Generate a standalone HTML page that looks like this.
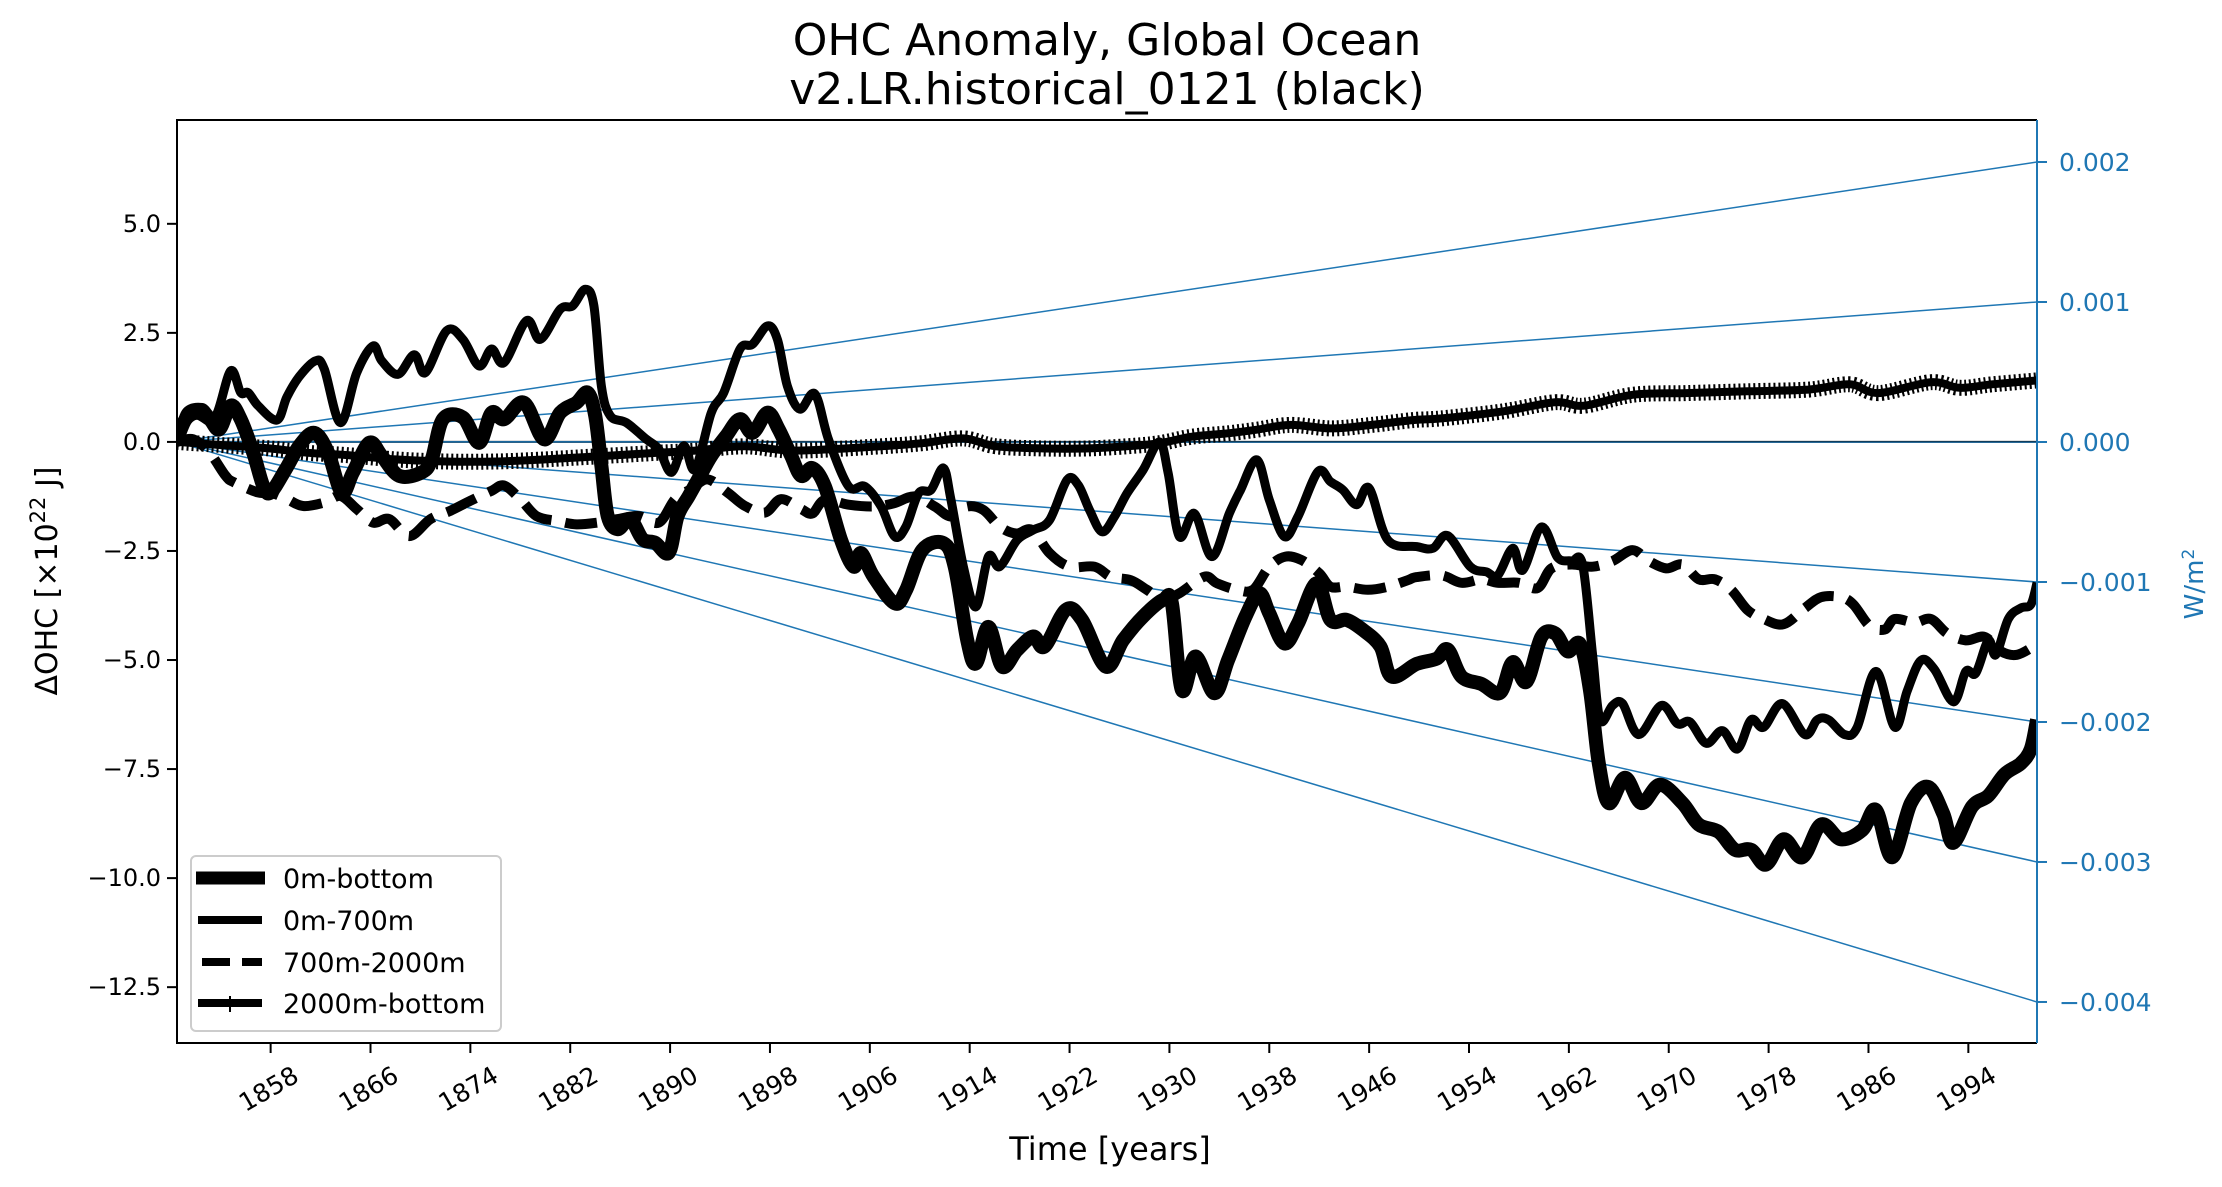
<!DOCTYPE html>
<html><head><meta charset="utf-8"><style>
html,body{margin:0;padding:0;background:#fff}
svg{display:block;font-family:"DejaVu Sans","Liberation Sans",sans-serif}
</style></head><body>
<svg id="chart" width="2222" height="1187" viewBox="0 0 2222 1187" xmlns="http://www.w3.org/2000/svg">
<defs><clipPath id="plotclip"><rect x="177" y="120" width="1860" height="923"/></clipPath></defs>
<text x="1107" y="55" font-size="44" text-anchor="middle">OHC Anomaly, Global Ocean</text>
<text x="1107" y="104" font-size="44" text-anchor="middle">v2.LR.historical_0121 (black)</text>
<g id="fan" clip-path="url(#plotclip)"></g>
<g id="series" clip-path="url(#plotclip)"></g>
<g id="axes"></g>
<text x="1110" y="1160" font-size="32" text-anchor="middle">Time [years]</text>
<text x="0" y="0" font-size="30" text-anchor="middle" transform="translate(57,581) rotate(-90)">ΔOHC [×10<tspan dy="-12" font-size="21">22</tspan><tspan dy="12"> J]</tspan></text>
<text x="0" y="0" font-size="26" fill="#1f77b4" text-anchor="middle" transform="translate(2203,584) rotate(-90)">W/m<tspan dy="-9" font-size="17">2</tspan></text>
<g>
<rect x="191" y="856" width="310" height="175" rx="5" fill="#fff" fill-opacity="0.85" stroke="#cccccc" stroke-width="2"/>
<g><line x1="196" y1="878" x2="265" y2="878" stroke="#000" stroke-width="13"/><text x="283" y="888" font-size="27">0m-bottom</text></g>
<g><line x1="198" y1="920" x2="262" y2="920" stroke="#000" stroke-width="8"/><text x="283" y="930" font-size="27">0m-700m</text></g>
<g><line x1="202" y1="962" x2="262" y2="962" stroke="#000" stroke-width="8" stroke-dasharray="28 12"/><text x="283" y="972" font-size="27">700m-2000m</text></g>
<g><line x1="198" y1="1003" x2="262" y2="1003" stroke="#000" stroke-width="8"/><line x1="230" y1="996" x2="230" y2="1012" stroke="#000" stroke-width="2"/><text x="283" y="1013" font-size="27">2000m-bottom</text></g>
</g>
</svg>
<script>
const yr1 = [1850.5,1851.2,1852.1,1853.1,1853.9,1854.8,1855.6,1856.6,1857.4,1858,1859.2,1860.3,1861.5,1862.6,1863.7,1864.6,1865.9,1866.9,1868.3,1870.1,1870.9,1871.8,1873.4,1874.7,1875.7,1876.7,1878.3,1879.9,1881.2,1882.5,1883.4,1884,1884.5,1885,1885.8,1886.8,1887.8,1888.8,1889.9,1890.6,1891.5,1892.4,1893.3,1894.5,1895.6,1896.6,1897.8,1898.7,1899.7,1900.5,1901.4,1902.4,1903.7,1904.7,1905.3,1906.3,1908,1908.9,1910.2,1911.9,1912.8,1913.8,1914.5,1915.5,1916.6,1917.8,1919.1,1920,1921.7,1923,1924.9,1926.3,1927.9,1929.5,1930.2,1931,1932.1,1933.6,1934.7,1936.1,1937.2,1938,1939.2,1940.3,1941.8,1942.9,1944.2,1945.5,1946.9,1947.8,1949.8,1951.4,1952.3,1953.4,1955,1956.5,1957.5,1958.6,1959.8,1960.9,1961.9,1962.9,1963.7,1964.4,1965.2,1966.5,1967.8,1969.3,1971.1,1972.4,1974,1975.3,1976.6,1977.8,1979.2,1980.7,1982.2,1983.8,1985.5,1986.6,1987.9,1989.4,1990.8,1992,1992.8,1994.3,1995.6,1996.9,1998.2,1999,1999.5];
const ohcBottom = [0.06,0.52,0.67,0.52,0.29,0.83,0.52,-0.24,-1.0,-1.16,-0.63,-0.09,0.21,-0.24,-1.16,-0.7,-0.02,-0.32,-0.78,-0.7,-0.4,0.52,0.56,-0.02,0.67,0.52,0.9,0.06,0.67,0.9,1.13,0.6,-0.55,-1.7,-2.0,-1.77,-2.23,-2.31,-2.54,-1.7,-1.24,-0.78,-0.32,0.14,0.52,0.21,0.67,0.29,-0.32,-0.78,-0.6,-1.02,-2.25,-2.86,-2.55,-3.09,-3.7,-3.4,-2.48,-2.32,-2.86,-4.54,-5.08,-4.24,-5.15,-4.77,-4.46,-4.69,-3.85,-4.08,-5.15,-4.54,-4.0,-3.62,-3.7,-5.69,-4.92,-5.76,-5.0,-4.0,-3.47,-3.93,-4.62,-4.16,-3.24,-4.08,-4.08,-4.31,-4.69,-5.38,-5.09,-4.97,-4.76,-5.38,-5.55,-5.75,-5.05,-5.5,-4.47,-4.39,-4.8,-4.64,-5.71,-7.37,-8.28,-7.7,-8.28,-7.86,-8.28,-8.77,-8.94,-9.35,-9.35,-9.69,-9.11,-9.52,-8.77,-9.11,-8.9,-8.44,-9.52,-8.28,-7.91,-8.53,-9.19,-8.36,-8.11,-7.62,-7.37,-7.04,-6.37];
const yr2 = [1850.5,1851.2,1852.5,1853.6,1854.8,1855.6,1856.2,1857,1858.5,1859.3,1860.3,1861.6,1862.3,1863.6,1864.9,1866.2,1866.9,1868.2,1869.5,1870.4,1872.1,1873.4,1874.7,1875.7,1876.7,1878.5,1879.6,1881.2,1882.2,1883.2,1883.9,1884.5,1885.2,1886.5,1888.1,1889.1,1890.1,1891.1,1892,1893.3,1894.3,1895.6,1896.6,1897.8,1898.6,1899.4,1900.4,1901.6,1902.7,1904.3,1905.6,1906.9,1908,1908.9,1909.9,1910.9,1911.9,1912.5,1913.5,1914.5,1915.5,1916.4,1917.8,1919.1,1920.4,1921.8,1922.7,1923.6,1924.6,1925.6,1926.6,1927.9,1929.2,1929.9,1930.8,1932,1933.4,1934.8,1935.7,1937,1938,1939.2,1940.3,1941.9,1942.9,1943.9,1945,1946,1947.5,1949.8,1951.1,1952.3,1954.1,1955.4,1956.3,1957.5,1958.3,1959.8,1961.1,1962.2,1963.1,1963.9,1964.5,1965.5,1966.3,1967.6,1969.4,1970.7,1971.7,1973,1974.3,1975.5,1976.6,1977.6,1979.1,1980.9,1981.9,1982.8,1984.1,1985.1,1986.6,1988.1,1989.1,1990.2,1991.3,1992.8,1993.8,1994.6,1995.6,1996.2,1997.2,1998.2,1999,1999.5];
const ohc700 = [0.0,0.67,0.79,0.6,1.63,1.13,1.13,0.83,0.5,1.03,1.5,1.86,1.67,0.44,1.59,2.2,1.86,1.55,2.0,1.59,2.55,2.35,1.74,2.13,1.82,2.78,2.35,3.04,3.12,3.5,3.12,1.28,0.6,0.44,0.06,-0.17,-0.7,-0.09,-0.63,0.67,1.13,2.13,2.24,2.66,2.35,1.28,0.75,1.1,0.05,-1.02,-1.02,-1.48,-2.17,-1.94,-1.18,-1.1,-0.6,-1.33,-2.86,-3.78,-2.63,-2.86,-2.25,-2.02,-1.79,-0.87,-0.99,-1.56,-2.06,-1.71,-1.18,-0.64,0.0,-0.72,-2.17,-1.64,-2.63,-1.64,-1.1,-0.41,-1.33,-2.17,-1.71,-0.68,-0.91,-1.1,-1.44,-1.06,-2.25,-2.4,-2.44,-2.15,-2.86,-2.98,-3.06,-2.44,-2.94,-1.95,-2.65,-2.73,-2.81,-4.88,-6.37,-6.04,-6.0,-6.71,-6.04,-6.46,-6.42,-6.91,-6.62,-7.04,-6.37,-6.54,-6.0,-6.71,-6.37,-6.37,-6.71,-6.54,-5.26,-6.54,-5.71,-5.01,-5.22,-5.96,-5.26,-5.3,-4.55,-4.88,-4.06,-3.81,-3.73,-3.23];
const yr3 = [1850.5,1851.8,1853.1,1854.4,1855.1,1857,1858,1859.3,1860.6,1862.3,1863.6,1864.9,1866.2,1867.5,1869.1,1870.8,1872.4,1874,1875.7,1876.7,1878,1879.3,1880.9,1882.5,1884.2,1885.8,1887.5,1889.1,1890.4,1891.7,1893,1894.6,1896,1897.6,1898.9,1900.5,1901.4,1902.4,1904.3,1906.3,1907.9,1909.6,1911.2,1912.5,1913.8,1915.1,1916.4,1917.7,1919,1920.4,1922,1924,1925.3,1926.9,1928.2,1929.5,1930.8,1932.8,1933.8,1935.4,1936.7,1938,1939.3,1940.6,1942,1942.9,1944.2,1945.9,1947.5,1949.1,1949.8,1951.8,1953.4,1955,1956.3,1958,1959.5,1960.6,1962.2,1963.9,1965.5,1967.1,1968.4,1969.8,1971.1,1972.4,1973.7,1975,1976.3,1977.6,1979.2,1980.9,1982.2,1983.8,1984.8,1986.1,1987.3,1988.1,1989.7,1991,1992.3,1993.8,1995.3,1996.6,1997.9,1999.5];
const ohc2000 = [0,0.06,-0.24,-0.78,-0.93,-1.16,-1.16,-1.31,-1.47,-1.39,-1.24,-1.54,-1.85,-1.77,-2.16,-1.77,-1.58,-1.35,-1.12,-1.0,-1.31,-1.7,-1.81,-1.89,-1.85,-1.77,-1.7,-1.85,-1.31,-1.08,-0.86,-1.16,-1.47,-1.62,-1.31,-1.54,-1.64,-1.33,-1.44,-1.48,-1.41,-1.25,-1.48,-1.71,-1.48,-1.56,-1.94,-2.1,-2.02,-2.55,-2.86,-2.86,-3.09,-3.17,-3.39,-3.62,-3.47,-3.09,-3.24,-3.39,-3.39,-2.86,-2.63,-2.71,-3.01,-3.32,-3.32,-3.39,-3.32,-3.17,-3.1,-3.06,-3.23,-3.15,-3.23,-3.23,-3.35,-2.9,-2.81,-2.86,-2.73,-2.48,-2.73,-2.9,-2.81,-3.15,-3.15,-3.39,-3.85,-4.06,-4.18,-3.81,-3.56,-3.56,-3.73,-4.22,-4.3,-4.06,-4.14,-4.06,-4.39,-4.55,-4.47,-4.8,-4.88,-4.64];
const yr4 = [1850.5,1853,1855.5,1858,1861,1864,1868,1872,1876,1880,1883,1886,1889,1892,1896,1900,1906.9,1910.2,1913.5,1916.1,1920,1923.3,1926.6,1929.2,1931.8,1934.8,1937,1939.7,1943,1946.2,1949.5,1951.8,1956.7,1960.9,1963.2,1967.1,1971.4,1976.3,1981.2,1984.5,1986.8,1991,1993.3,1995.9,1999.5];
const ohcDeep = [0,-0.05,-0.1,-0.15,-0.25,-0.3,-0.4,-0.45,-0.45,-0.4,-0.35,-0.3,-0.25,-0.2,-0.1,-0.2,-0.1,-0.03,0.08,-0.1,-0.15,-0.15,-0.1,-0.03,0.12,0.2,0.28,0.39,0.31,0.39,0.5,0.54,0.7,0.91,0.83,1.08,1.12,1.16,1.2,1.32,1.12,1.37,1.24,1.32,1.41];
const yTicks = [5.0,2.5,0.0,-2.5,-5.0,-7.5,-10.0,-12.5];
const yTickLabels = ["5.0","2.5","0.0","\u22122.5","\u22125.0","\u22127.5","\u221210.0","\u221212.5"];
const xTicks = [1858,1866,1874,1882,1890,1898,1906,1914,1922,1930,1938,1946,1954,1962,1970,1978,1986,1994];
const rTicks = [0.002,0.001,0.000,-0.001,-0.002,-0.003,-0.004];
const rTickLabels = ["0.002","0.001","0.000","\u22120.001","\u22120.002","\u22120.003","\u22120.004"];
const fanRates = [0.002,0.001,0.0,-0.001,-0.002,-0.003,-0.004];

const NS = "http://www.w3.org/2000/svg";
const L = 177, R = 2037, T = 120, B = 1043;
const X0 = 1850.5, X1 = 1999.5;
const Y0 = -13.78, Y1 = 7.38;
const RY0 = -0.004293, RY1 = 0.0023;
function sx(v){ return L + (v - X0) / (X1 - X0) * (R - L); }
function sy(v){ return B - (v - Y0) / (Y1 - Y0) * (B - T); }
function sr(v){ return B - (v - RY0) / (RY1 - RY0) * (B - T); }
function mk(tag, attrs, parent){
  const e = document.createElementNS(NS, tag);
  for (const k in attrs) e.setAttribute(k, attrs[k]);
  parent.appendChild(e);
  return e;
}
const fan = document.getElementById('fan');
const series = document.getElementById('series');
const axes = document.getElementById('axes');

const zl = mk('line', {x1:L, x2:R, y1:sy(0), y2:sy(0), stroke:'#000', 'stroke-width':2}, fan);


fanRates.forEach(function(r){
  const ln = mk('line', {x1:sx(X0), y1:sy(0), x2:R, y2:sr(r), stroke:'#1f77b4', 'stroke-width':1.5}, fan);
  
  
});

function pathD(xs, ys){
  const p = xs.map(function(x, i){ return [sx(x), sy(ys[i])]; });
  let d = 'M' + p[0][0].toFixed(1) + ',' + p[0][1].toFixed(1);
  for (let i = 0; i < p.length - 1; i++){
    const p0 = p[Math.max(0, i-1)], p1 = p[i], p2 = p[i+1], p3 = p[Math.min(p.length-1, i+2)];
    const c1x = p1[0] + (p2[0]-p0[0])/6, c1y = p1[1] + (p2[1]-p0[1])/6;
    const c2x = p2[0] - (p3[0]-p1[0])/6, c2y = p2[1] - (p3[1]-p1[1])/6;
    d += ' C' + c1x.toFixed(1) + ',' + c1y.toFixed(1) + ' ' + c2x.toFixed(1) + ',' + c2y.toFixed(1) + ' ' + p2[0].toFixed(1) + ',' + p2[1].toFixed(1);
  }
  return d;
}
const pDeep = mk('path', {d:pathD(yr4, ohcDeep), fill:'none', stroke:'#000', 'stroke-width':8, 'stroke-linejoin':'round'}, series);


const pDeepM = mk('path', {d:pathD(yr4, ohcDeep), fill:'none', stroke:'#000', 'stroke-width':16, 'stroke-dasharray':'2 3'}, series);


const p2000 = mk('path', {d:pathD(yr3, ohc2000), fill:'none', stroke:'#000', 'stroke-width':10, 'stroke-dasharray':'32 14'}, series);


const p700 = mk('path', {d:pathD(yr2, ohc700), fill:'none', stroke:'#000', 'stroke-width':9, 'stroke-linejoin':'round'}, series);


const pBot = mk('path', {d:pathD(yr1, ohcBottom), fill:'none', stroke:'#000', 'stroke-width':14, 'stroke-linejoin':'round'}, series);



const fr = mk('path', {d:'M'+R+','+T+' L'+L+','+T+' L'+L+','+B+' L'+R+','+B, fill:'none', stroke:'#000', 'stroke-width':2}, axes);


const rs = mk('line', {x1:R, x2:R, y1:T, y2:B, stroke:'#1f77b4', 'stroke-width':2}, axes);



yTicks.forEach(function(v, i){
  const y = sy(v);
  const t = mk('line', {x1:L-10, x2:L, y1:y, y2:y, stroke:'#000', 'stroke-width':2}, axes);
  
  
  const tx = mk('text', {x:L-16, y:y+8, 'font-size':24, 'text-anchor':'end'}, axes);
  tx.textContent = yTickLabels[i];
  
  
});
rTicks.forEach(function(v, i){
  const y = sr(v);
  const t = mk('line', {x1:R, x2:R+10, y1:y, y2:y, stroke:'#1f77b4', 'stroke-width':2}, axes);
  
  
  const tx = mk('text', {x:R+22, y:y+9, 'font-size':25, fill:'#1f77b4'}, axes);
  tx.textContent = rTickLabels[i];
  
  
});
xTicks.forEach(function(v){
  const x = sx(v);
  const t = mk('line', {x1:x, x2:x, y1:B, y2:B+10, stroke:'#000', 'stroke-width':2}, axes);
  
  
  const tx = mk('text', {x:0, y:0, 'font-size':25, 'text-anchor':'middle', 'dominant-baseline':'central', transform:'translate('+(x-2)+','+(B+46)+') rotate(-30)'}, axes);
  tx.textContent = String(v);
  
  
});
</script>
</body></html>
